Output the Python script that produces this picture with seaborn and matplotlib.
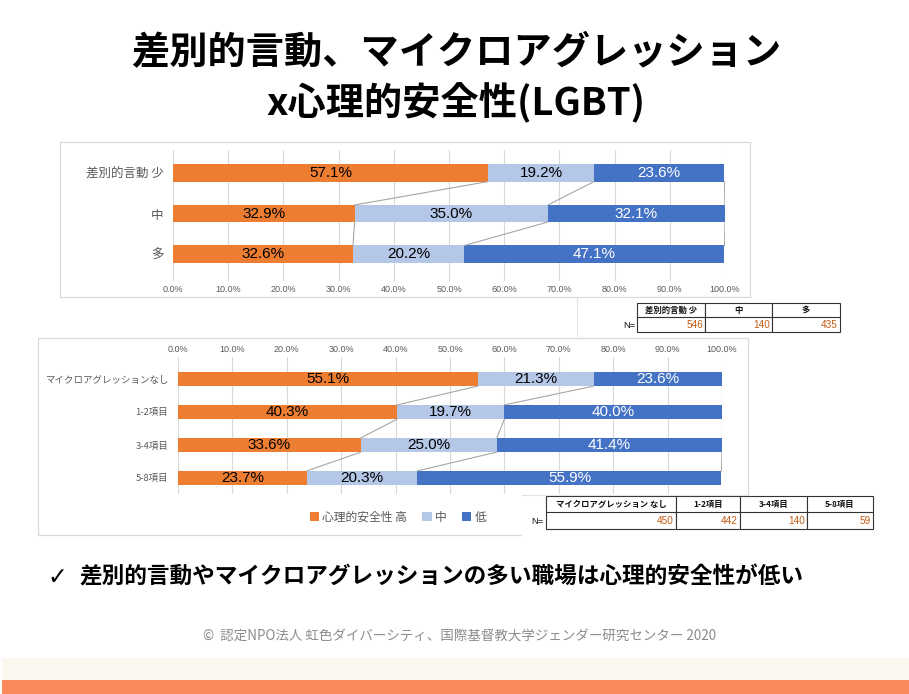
import numpy as np
import pandas as pd
import matplotlib
matplotlib.use("Agg")
import matplotlib.pyplot as plt
import seaborn as sns
from matplotlib.patches import Rectangle
from matplotlib.lines import Line2D
from matplotlib import font_manager

W, H = 909, 694

# ---------------- data ----------------
series_names = ["心理的安全性 高", "中", "低"]

top_categories = ["差別的言動 少", "中", "多"]
top_high = [57.1, 32.9, 32.6]
top_mid = [19.2, 35.0, 20.2]
top_low = [23.6, 32.1, 47.1]
top_n_header = ["差別的言動 少", "中", "多"]
top_n = [546, 140, 435]

bot_categories = ["マイクロアグレッションなし", "1-2項目", "3-4項目", "5-8項目"]
bot_high = [55.1, 40.3, 33.6, 23.7]
bot_mid = [21.3, 19.7, 25.0, 20.3]
bot_low = [23.6, 40.0, 41.4, 55.9]
bot_n_header = ["マイクロアグレッション なし", "1-2項目", "3-4項目", "5-8項目"]
bot_n = [450, 442, 140, 59]

xticks = [0, 10, 20, 30, 40, 50, 60, 70, 80, 90, 100]

title_lines = ["差別的言動、マイクロアグレッション", "x心理的安全性(LGBT)"]
bullet_text = "差別的言動やマイクロアグレッションの多い職場は心理的安全性が低い"
footer_text = "©  認定NPO法人 虹色ダイバーシティ、国際基督教大学ジェンダー研究センター 2020"

colors = ["#ED7D31", "#B4C7E7", "#4472C4"]
label_colors = ["black", "black", "white"]

# ---------------- style ----------------
sns.set_theme(style="white")
plt.rcParams["font.family"] = ["Noto Sans CJK JP", "DejaVu Sans"]
names = {f.name for f in font_manager.fontManager.ttflist}
NARROW = "Liberation Sans Narrow" if "Liberation Sans Narrow" in names else "Liberation Sans"
NUMFONT = [NARROW, "Noto Sans CJK JP", "DejaVu Sans"]

fig = plt.figure(figsize=(W / 100, H / 100), dpi=100)
fig.patch.set_facecolor("white")


def rect(x0, y0, x1, y1):
    return [x0 / W, 1 - y1 / H, (x1 - x0) / W, (y1 - y0) / H]


def stacked(ax, cats, high, mid, low, bar_w, label_size):
    df = pd.DataFrame({"cat": cats, "high": high, "mid": mid, "low": low})
    df["c1"] = df["high"]
    df["c2"] = df["high"] + df["mid"]
    df["c3"] = df["c2"] + df["low"]
    for col, color in [("c3", colors[2]), ("c2", colors[1]), ("c1", colors[0])]:
        sns.barplot(data=df, x=col, y="cat", orient="h", color=color,
                    saturation=1, width=bar_w, errorbar=None, ax=ax,
                    edgecolor="none", linewidth=0, zorder=3)
    # labels
    for i in range(len(df)):
        starts = [0, df["c1"][i], df["c2"][i]]
        vals = [df["high"][i], df["mid"][i], df["low"][i]]
        for s, v, tc in zip(starts, vals, label_colors):
            ax.text(s + v / 2, i, f"{v:.1f}%", ha="center", va="center",
                    color=tc, fontsize=label_size, family=NUMFONT, zorder=5)
    # series lines
    hw = bar_w / 2
    for i in range(len(df) - 1):
        for col in ["c1", "c2", "c3"]:
            ax.add_line(Line2D([df[col][i], df[col][i + 1]], [i + hw, i + 1 - hw],
                               color="#A6A6A6", lw=0.8, zorder=4))
    ax.set_xlim(0, 100)
    ax.set_xticks(xticks)
    ax.set_xticklabels([f"{t:.1f}%" for t in xticks], family=NUMFONT,
                       fontsize=6.5, color="#595959")
    ax.xaxis.grid(True, color="#D9D9D9", lw=0.8, zorder=0)
    ax.yaxis.grid(False)
    ax.set_axisbelow(True)
    for s in ax.spines.values():
        s.set_visible(False)
    ax.set_xlabel("")
    ax.set_ylabel("")
    ax.tick_params(length=0)
    ax.patch.set_alpha(0)


# ---------------- top chart ----------------
ax1 = fig.add_axes(rect(173, 150, 725, 281))
stacked(ax1, top_categories, top_high, top_mid, top_low, 0.42, 11)
ax1.set_ylim(2 + 27 / 40.5, -23 / 40.5)
ax1.tick_params(axis="x", pad=3)
ax1.tick_params(axis="y", pad=7)
for t in ax1.get_yticklabels():
    t.set_fontsize(9)
    t.set_color("#595959")

# ---------------- bottom chart ----------------
ax2 = fig.add_axes(rect(178, 357, 722, 494))
stacked(ax2, bot_categories, bot_high, bot_mid, bot_low, 0.43, 11)
ax2.set_ylim(3 + 16 / 33, -22 / 33)
ax2.xaxis.tick_top()
ax2.tick_params(axis="x", pad=2)
ax2.tick_params(axis="y", pad=7)
for t in ax2.get_yticklabels():
    t.set_fontsize(6.8)
    t.set_color("#595959")

# ---------------- overlay ----------------
ov = fig.add_axes([0, 0, 1, 1])
ov.set_xlim(0, W)
ov.set_ylim(H, 0)
ov.axis("off")
ov.set_zorder(10)

# panel boxes
ov.add_patch(Rectangle((60, 142), 690, 155, fill=False, ec="#D9D9D9", lw=0.9))
ov.add_patch(Rectangle((38, 338), 710, 197, fill=False, ec="#D9D9D9", lw=0.9))

# white backgrounds behind the N tables (pasted over the panels)
ov.add_patch(Rectangle((577, 297.6), 270, 38, fc="white", ec="none"))
ov.add_line(Line2D([577, 577], [297, 336], color="#E3E3E3", lw=0.8))
ov.add_patch(Rectangle((522, 494.5), 360, 42, fc="white", ec="none"))
ov.add_line(Line2D([522, 748], [494.5, 494.5], color="#E3E3E3", lw=0.8))

# titles
ov.text(456, 52, title_lines[0], ha="center", va="center", fontsize=27.5,
        weight="bold", color="black")
ov.text(456, 103, title_lines[1], ha="center", va="center", fontsize=27.5,
        weight="bold", color="black")

# N tables
def ntable(xs, y0, y1, y2, headers, values, hsize):
    for xa, xb, h, v in zip(xs[:-1], xs[1:], headers, values):
        ov.add_patch(Rectangle((xa, y0), xb - xa, y2 - y0, fill=True, fc="white",
                               ec="#333333", lw=0.8))
        ov.add_line(Line2D([xa, xb], [y1, y1], color="#333333", lw=0.8))
        ov.text((xa + xb) / 2, (y0 + y1) / 2 + 0.5, h, ha="center", va="center",
                fontsize=hsize, weight="bold", color="#111111")
        ov.text(xb - 2, (y1 + y2) / 2 + 0.5, str(v), ha="right", va="center",
                fontsize=7.2, color="#C55A11", family=NUMFONT)
    ov.text(xs[0] - 2, (y1 + y2) / 2 + 1, "N=", ha="right", va="center",
            fontsize=6.8, color="#111111", family=NUMFONT)

ntable([637, 705, 772, 840], 303, 317, 332, top_n_header, top_n, 6.0)
ntable([546, 676, 740, 807, 873], 496, 512, 529, bot_n_header, bot_n, 6.0)

# legend
handles = [Rectangle((0, 0), 1, 1, fc=c, ec="none") for c in colors]
ov.legend(handles, series_names, loc="center", bbox_to_anchor=(398, 517),
          bbox_transform=ov.transData, ncol=3, frameon=False, fontsize=8.5,
          handlelength=0.8, handleheight=0.8, handletextpad=0.25,
          columnspacing=1.3, labelcolor="#595959")

# bullet
ov.text(47, 577, "✓", ha="left", va="center", fontsize=17,
        family=["DejaVu Sans"], weight="bold", color="black")
ov.text(80, 577, bullet_text, ha="left", va="center", fontsize=16.3,
        weight="bold", color="black")

# footer
ov.text(460, 637, footer_text, ha="center", va="center", fontsize=9.7,
        color="#8C8C8C")

# bottom bands
ov.add_patch(Rectangle((2, 658), W - 2, 22, fc="#FBF7EF", ec="none"))
ov.add_patch(Rectangle((2, 680), W - 2, 14, fc="#FA8A5B", ec="none"))

fig.savefig("out.png", dpi=100, facecolor="white")
